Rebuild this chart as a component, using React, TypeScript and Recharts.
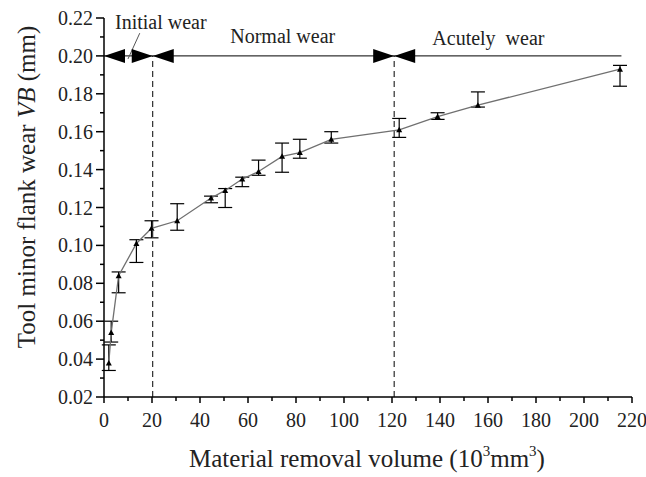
import {
  ComposedChart,
  Line,
  XAxis,
  YAxis,
  ErrorBar,
  ReferenceLine,
  ReferenceDot,
  Customized,
} from 'recharts'

const removalVolume = [2.0, 3.0, 6.1, 13.5, 19.8, 30.5, 44.6, 50.5, 57.6, 64.4, 74.2, 81.6, 94.7, 123.0, 139.0, 155.8, 215.0]
const flankWear = [0.038, 0.054, 0.084, 0.101, 0.109, 0.113, 0.125, 0.129, 0.135, 0.139, 0.147, 0.149, 0.156, 0.161, 0.168, 0.174, 0.193]
const wearUpper = [0.0475, 0.06, 0.086, 0.103, 0.113, 0.122, 0.126, 0.130, 0.136, 0.145, 0.154, 0.156, 0.160, 0.167, 0.170, 0.181, 0.195]
const wearLower = [0.034, 0.049, 0.075, 0.091, 0.104, 0.108, 0.1225, 0.120, 0.131, 0.137, 0.1386, 0.146, 0.154, 0.157, 0.1665, 0.173, 0.184]

const xTicks = [0, 10, 20, 30, 40, 50, 60, 70, 80, 90, 100, 110, 120, 130, 140, 150, 160, 170, 180, 190, 200, 210, 220]
const yTicks = [0.02, 0.03, 0.04, 0.05, 0.06, 0.07, 0.08, 0.09, 0.1, 0.11, 0.12, 0.13, 0.14, 0.15, 0.16, 0.17, 0.18, 0.19, 0.2, 0.21, 0.22]

// stage boundaries and the arrow line level
const stageBounds = [0, 20.3, 120.9]
const stageLineEnd = 215.6
const stageLevel = 0.2
const stageLabels = [
  { text: 'Initial wear', x: 4.6, y: 0.2142 },
  { text: 'Normal wear', x: 52.6, y: 0.2066 },
  { text: 'Acutely  wear', x: 136.8, y: 0.2058 },
]

const data = removalVolume.map((x, i) => ({
  x,
  wear: flankWear[i],
  err: [flankWear[i] - wearLower[i], wearUpper[i] - flankWear[i]],
}))

const FONT = '"Liberation Serif", "Times New Roman", serif'
const TXT = '#222'

const XTick = (props: any) => {
  const { x, y, payload } = props
  const major = payload.value % 20 === 0
  return (
    <g>
      <line x1={x} x2={x} y1={y} y2={y + (major ? 6 : 4)} stroke="#000" strokeWidth={1.5} />
      {major && (
        <text x={x} y={y + 30} textAnchor="middle" fontFamily={FONT} fontSize={20} fill={TXT}>
          {payload.value}
        </text>
      )}
    </g>
  )
}

const YTick = (props: any) => {
  const { x, y, payload } = props
  const major = Math.round(payload.value * 100) % 2 === 0
  return (
    <g>
      <line x1={x - (major ? 8 : 4)} x2={x} y1={y} y2={y} stroke="#000" strokeWidth={1.5} />
      {major && (
        <text x={x - 11} y={y + 7} textAnchor="end" fontFamily={FONT} fontSize={20} fill={TXT}>
          {payload.value.toFixed(2)}
        </text>
      )}
    </g>
  )
}

const TriDot = (props: any) => {
  const { cx, cy } = props
  if (cx == null || cy == null) return null
  return <path d={`M${cx},${cy - 3} L${cx + 3},${cy + 2.5} L${cx - 3},${cy + 2.5} Z`} fill="#000" />
}

const arrowLeft = (props: any) => {
  const { cx, cy } = props
  return <path d={`M${cx},${cy} L${cx + 21},${cy - 7} L${cx + 21},${cy + 7} Z`} fill="#000" />
}

const arrowRight = (props: any) => {
  const { cx, cy } = props
  return <path d={`M${cx},${cy} L${cx - 21},${cy - 7} L${cx - 21},${cy + 7} Z`} fill="#000" />
}

const textShape = (text: string) => (props: any) => {
  const { cx, cy } = props
  return (
    <text x={cx} y={cy} fontFamily={FONT} fontSize={20} fill={TXT} style={{ whiteSpace: 'pre' }}>
      {text}
    </text>
  )
}

const AxisTitles = () => (
  <g fontFamily={FONT} fill={TXT}>
    <text x={367} y={467} textAnchor="middle" fontSize={25}>
      Material removal volume (10
      <tspan fontSize={15} dy={-11}>3</tspan>
      <tspan dy={11}>mm</tspan>
      <tspan fontSize={15} dy={-11}>3</tspan>
      <tspan dy={11}>)</tspan>
    </text>
    <text x={35} y={187} textAnchor="middle" fontSize={25} transform="rotate(-90 35 187)">
      Tool minor flank wear <tspan fontStyle="italic">VB</tspan> (mm)
    </text>
  </g>
)

export default function App() {
  return (
    <div style={{ position: 'absolute', left: 0, top: 0, background: '#fff' }}>
      <ComposedChart
        width={646}
        height={477}
        data={data}
        margin={{ top: 18, right: 14, bottom: 50, left: 0 }}
      >
        <XAxis
          dataKey="x"
          type="number"
          domain={[0, 220]}
          ticks={xTicks}
          interval={0}
          height={30}
          tickSize={0}
          tickMargin={0}
          tickLine={false}
          tick={<XTick />}
          axisLine={{ stroke: '#000', strokeWidth: 1.5 }}
        />
        <YAxis
          type="number"
          domain={[0.02, 0.22]}
          ticks={yTicks}
          interval={0}
          width={104}
          tickSize={0}
          tickMargin={0}
          tickLine={false}
          tick={<YTick />}
          axisLine={{ stroke: '#000', strokeWidth: 1.5 }}
        />
        <ReferenceLine
          segment={[{ x: stageBounds[0], y: stageLevel }, { x: stageLineEnd, y: stageLevel }]}
          stroke="#000"
          strokeWidth={1}
        />
        {stageBounds.slice(1).map(b => (
          <ReferenceLine
            key={b}
            segment={[{ x: b, y: 0.02 }, { x: b, y: stageLevel }]}
            stroke="#000"
            strokeWidth={1}
            strokeDasharray="6 4"
          />
        ))}
        <ReferenceDot x={stageBounds[0]} y={stageLevel} shape={arrowLeft} />
        <ReferenceDot x={stageBounds[1]} y={stageLevel} shape={arrowRight} />
        <ReferenceDot x={stageBounds[1]} y={stageLevel} shape={arrowLeft} />
        <ReferenceDot x={stageBounds[2]} y={stageLevel} shape={arrowRight} />
        <ReferenceDot x={stageBounds[2]} y={stageLevel} shape={arrowLeft} />
        <ReferenceLine
          segment={[{ x: 14.9, y: 0.212 }, { x: 10.0, y: 0.1984 }]}
          stroke="#555"
          strokeWidth={1}
        />
        {stageLabels.map(l => (
          <ReferenceDot key={l.text} x={l.x} y={l.y} shape={textShape(l.text)} />
        ))}
        <Line
          dataKey="wear"
          stroke="#707070"
          strokeWidth={1.3}
          dot={<TriDot />}
          activeDot={false}
          isAnimationActive={false}
        >
          <ErrorBar dataKey="err" direction="y" width={7} stroke="#000" strokeWidth={1.2} />
        </Line>
        <Customized component={AxisTitles} />
      </ComposedChart>
    </div>
  )
}
